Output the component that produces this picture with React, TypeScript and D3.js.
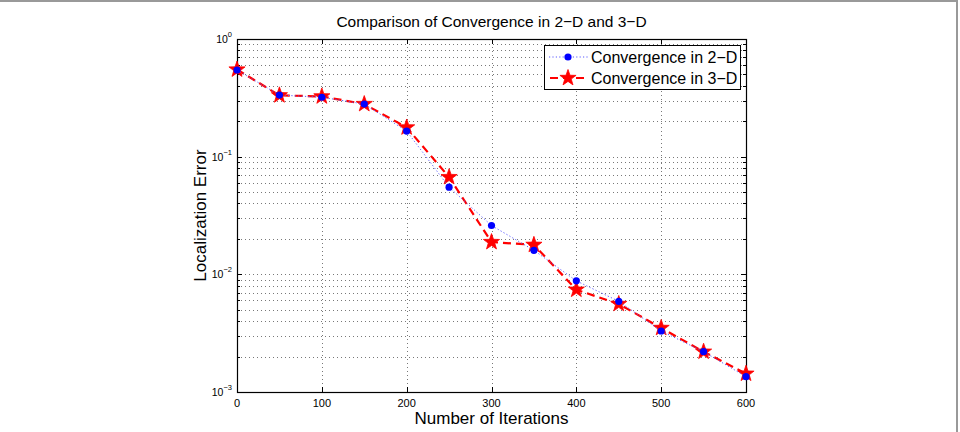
import React, { useEffect, useRef } from "react";
import * as d3 from "d3";

// iterations on the x axis
const iterations = [0, 50, 100, 150, 200, 250, 300, 350, 400, 450, 500, 550, 600];
// localization error, 2-D run
const error2D = [0.545, 0.334, 0.32, 0.28, 0.165, 0.055, 0.026, 0.016, 0.0088, 0.0059, 0.0033, 0.0022, 0.00135];
// localization error, 3-D run
const error3D = [0.55, 0.332, 0.325, 0.28, 0.177, 0.067, 0.0188, 0.0178, 0.0074, 0.0056, 0.0035, 0.0022, 0.00143];

const xTicks = [0, 100, 200, 300, 400, 500, 600];
const yDecades = [0, -1, -2, -3];

const FONT = "'Liberation Sans', Arial, Helvetica, sans-serif";

const starPath = (r: number) => {
  const inner = r * 0.4;
  const pts: string[] = [];
  for (let i = 0; i < 10; i++) {
    const a = -Math.PI / 2 + (i * Math.PI) / 5;
    const rr = i % 2 === 0 ? r : inner;
    pts.push(`${(rr * Math.cos(a)).toFixed(2)},${(rr * Math.sin(a)).toFixed(2)}`);
  }
  return "M" + pts.join("L") + "Z";
};

const App = () => {
  const ref = useRef<SVGSVGElement>(null);

  useEffect(() => {
    const svg = d3.select(ref.current);
    svg.selectAll("*").remove();

    const width = 960;
    const height = 432;
    const margin = { top: 39, right: 214, bottom: 40, left: 237 };
    const plotW = width - margin.left - margin.right;
    const plotH = height - margin.top - margin.bottom;

    svg.attr("width", width).attr("height", height);

    svg.append("rect").attr("width", width).attr("height", height).attr("fill", "#fff");
    // outer frame
    svg.append("line").attr("x1", 0).attr("x2", 958).attr("y1", 1).attr("y2", 1)
      .attr("stroke", "#999").attr("stroke-width", 2);
    svg.append("line").attr("x1", 957).attr("x2", 957).attr("y1", 0).attr("y2", height)
      .attr("stroke", "#999").attr("stroke-width", 2);

    const x = d3.scaleLinear().domain([0, 600]).range([0, plotW]);
    const y = d3.scaleLog().domain([1e-3, 1]).range([plotH, 0]);

    const g = svg.append("g").attr("transform", `translate(${margin.left},${margin.top})`);

    // grid
    const minorVals: number[] = [];
    for (let e = -3; e < 0; e++) {
      for (let m = 1; m <= 9; m++) minorVals.push(m * Math.pow(10, e));
    }
    const grid = g.append("g").attr("stroke", "#555").attr("stroke-width", 0.8)
      .attr("stroke-dasharray", "1,3");
    minorVals.filter((v) => v > 1e-3).forEach((v) => {
      grid.append("line").attr("x1", 0).attr("x2", plotW)
        .attr("y1", Math.round(y(v)) + 0.5).attr("y2", Math.round(y(v)) + 0.5);
    });
    xTicks.slice(1, -1).forEach((t) => {
      grid.append("line").attr("y1", 0).attr("y2", plotH)
        .attr("x1", Math.round(x(t)) + 0.5).attr("x2", Math.round(x(t)) + 0.5);
    });

    // ticks, inside the box on all sides
    const ticks = g.append("g").attr("stroke", "#000").attr("stroke-width", 1);
    xTicks.forEach((t) => {
      const xx = Math.round(x(t)) + 0.5;
      ticks.append("line").attr("x1", xx).attr("x2", xx).attr("y1", plotH).attr("y2", plotH - 5);
      ticks.append("line").attr("x1", xx).attr("x2", xx).attr("y1", 0).attr("y2", 5);
    });
    minorVals.forEach((v) => {
      const yy = Math.round(y(v)) + 0.5;
      const len = Math.abs(Math.log10(v) - Math.round(Math.log10(v))) < 1e-9 ? 5 : 3;
      ticks.append("line").attr("x1", 0).attr("x2", len).attr("y1", yy).attr("y2", yy);
      ticks.append("line").attr("x1", plotW).attr("x2", plotW - len).attr("y1", yy).attr("y2", yy);
    });

    g.append("rect").attr("x", 0.5).attr("y", 0.5).attr("width", plotW).attr("height", plotH)
      .attr("fill", "none").attr("stroke", "#000").attr("stroke-width", 1.2);

    // tick labels
    g.append("g").selectAll("text").data(xTicks).enter().append("text")
      .attr("x", (d) => x(d)).attr("y", plotH + 15)
      .attr("text-anchor", "middle").attr("font-family", FONT).attr("font-size", 11)
      .text((d) => d);

    yDecades.forEach((e) => {
      const t = g.append("text").attr("x", -5).attr("y", y(Math.pow(10, e)) + 4)
        .attr("text-anchor", "end").attr("font-family", FONT).attr("font-size", 10.5);
      t.append("tspan").text("10");
      t.append("tspan").attr("dy", -6).attr("font-size", 7.5).text(e === 0 ? "0" : `\u2212${-e}`);
    });

    // series
    const pts2 = iterations.map((it, i) => [x(it), y(error2D[i])] as [number, number]);
    const pts3 = iterations.map((it, i) => [x(it), y(error3D[i])] as [number, number]);
    const line = d3.line();

    g.append("path").attr("d", line(pts3)).attr("fill", "none").attr("stroke", "#ff0000")
      .attr("stroke-width", 2.2).attr("stroke-dasharray", "8,5");
    g.append("g").selectAll("path").data(pts3).enter().append("path")
      .attr("transform", (d) => `translate(${d[0]},${d[1]})`)
      .attr("d", starPath(8.5)).attr("fill", "#ff0000").attr("stroke", "#ff0000").attr("stroke-width", 0.8);

    g.append("path").attr("d", line(pts2)).attr("fill", "none").attr("stroke", "#5a5aff")
      .attr("stroke-width", 1).attr("stroke-dasharray", "1.2,2.2");
    g.append("g").selectAll("circle").data(pts2).enter().append("circle")
      .attr("cx", (d) => d[0]).attr("cy", (d) => d[1]).attr("r", 3.6).attr("fill", "#0000ff");

    // legend
    const lg = svg.append("g").attr("transform", "translate(544,45)");
    lg.append("rect").attr("x", 0.5).attr("y", 0.5).attr("width", 196).attr("height", 44)
      .attr("fill", "#fff").attr("stroke", "#000").attr("stroke-width", 1);
    lg.append("line").attr("x1", 5).attr("x2", 45).attr("y1", 12).attr("y2", 12)
      .attr("stroke", "#5a5aff").attr("stroke-width", 1).attr("stroke-dasharray", "1.2,2.2");
    lg.append("circle").attr("cx", 24).attr("cy", 12).attr("r", 3.6).attr("fill", "#0000ff");
    lg.append("line").attr("x1", 5).attr("x2", 45).attr("y1", 33).attr("y2", 33)
      .attr("stroke", "#ff0000").attr("stroke-width", 2.2).attr("stroke-dasharray", "8,5")
      .attr("stroke-dashoffset", -1);
    lg.append("path").attr("transform", "translate(24,33)").attr("d", starPath(8.5))
      .attr("fill", "#ff0000").attr("stroke", "#ff0000").attr("stroke-width", 0.8);
    lg.append("text").attr("x", 47).attr("y", 18).attr("font-family", FONT).attr("font-size", 16)
      .text("Convergence in 2\u2212D");
    lg.append("text").attr("x", 47).attr("y", 39).attr("font-family", FONT).attr("font-size", 16)
      .text("Convergence in 3\u2212D");

    // titles
    svg.append("text").attr("x", margin.left + plotW / 2).attr("y", 27)
      .attr("text-anchor", "middle").attr("font-family", FONT).attr("font-size", 15.5)
      .text("Comparison of Convergence in 2\u2212D and 3\u2212D");
    svg.append("text").attr("x", margin.left + plotW / 2).attr("y", 424)
      .attr("text-anchor", "middle").attr("font-family", FONT).attr("font-size", 17)
      .text("Number of Iterations");
    svg.append("text")
      .attr("transform", `translate(206,${margin.top + plotH / 2}) rotate(-90)`)
      .attr("text-anchor", "middle").attr("font-family", FONT).attr("font-size", 17)
      .text("Localization Error");
  }, []);

  return <svg ref={ref} style={{ position: "absolute", left: 0, top: 0 }}></svg>;
};

export default App;
